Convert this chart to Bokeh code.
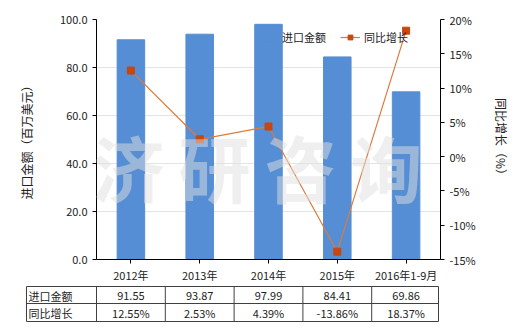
from bokeh.plotting import figure
from bokeh.models import (Range1d, LinearAxis, FactorRange, PrintfTickFormatter,
                          FixedTicker, Legend, LegendItem, Label, ColumnDataSource)
from bokeh.embed import file_html
from bokeh.resources import INLINE
from bokeh.core.properties import value

categories = ["2012年", "2013年", "2014年", "2015年", "2016年1-9月"]
import_values = [91.55, 93.87, 97.99, 84.41, 69.86]
growth_pct = [12.55, 2.53, 4.39, -13.86, 18.37]
import_labels = ["91.55", "93.87", "97.99", "84.41", "69.86"]
growth_labels = ["12.55%", "2.53%", "4.39%", "-13.86%", "18.37%"]
row_names = ["进口金额", "同比增长"]
watermark_chars = ["济", "研", "咨", "询"]

FONT = "Noto Sans CJK SC"
BAR = "#558ED5"
LINE = "#E0793A"
MARK = "#C8470C"

p = figure(width=520, height=285, x_range=FactorRange(*categories),
           y_range=Range1d(0, 100), output_backend="svg", toolbar_location=None,
           min_border_left=96, min_border_right=80, min_border_top=19,
           min_border_bottom=26)
p.extra_y_ranges = {"pct": Range1d(-15, 20)}
p.outline_line_color = None
p.background_fill_color = "white"
p.border_fill_color = "white"

bars = p.vbar(x=categories, top=import_values, width=0.4, color=BAR)

# watermark
for i, ch in enumerate(watermark_chars):
    p.add_layout(Label(x=32 + i * 86, y=94, x_units="screen", y_units="screen",
                       text=ch, text_font=FONT, text_font_size="72px",
                       text_font_style="bold", text_color="#e0e0e0", text_alpha=0.5,
                       text_align="center", text_baseline="middle"))

ln = p.line(x=categories, y=growth_pct, y_range_name="pct", color=LINE, line_width=1.2)
mk = p.scatter(x=categories, y=growth_pct, y_range_name="pct", marker="square",
               size=7, fill_color=MARK, line_color=MARK)

# left axis
p.yaxis.ticker = FixedTicker(ticks=[0, 20, 40, 60, 80, 100])
p.yaxis.formatter = PrintfTickFormatter(format="%.1f")
p.yaxis.axis_label = "进口金额（百万美元）"
p.yaxis.axis_label_standoff = 22
for ax in [p.yaxis[0], p.xaxis[0]]:
    ax.axis_line_color = "black"
    ax.major_tick_line_color = "black"
    ax.major_tick_out = 4
    ax.major_tick_in = 0
    ax.minor_tick_line_color = None
    ax.major_label_text_font = FONT
    ax.major_label_text_font_size = "11px"
    ax.major_label_text_color = "#222222"
    ax.axis_label_text_font = FONT
    ax.axis_label_text_font_size = "12px"
    ax.axis_label_text_font_style = "normal"
    ax.axis_label_text_color = "#222222"
p.xaxis.major_label_standoff = 3

# right axis
ra = LinearAxis(y_range_name="pct", ticker=FixedTicker(ticks=[-15, -10, -5, 0, 5, 10, 15, 20]),
                formatter=PrintfTickFormatter(format="%d%%"),
                axis_label="同比增长（%）", axis_label_standoff=14)
ra.axis_line_color = "black"
ra.major_tick_line_color = "black"
ra.major_tick_out = 4
ra.major_tick_in = 0
ra.minor_tick_line_color = None
ra.major_label_text_font = FONT
ra.major_label_text_font_size = "11px"
ra.major_label_text_color = "#222222"
ra.axis_label_text_font = FONT
ra.axis_label_text_font_size = "12px"
ra.axis_label_text_font_style = "normal"
ra.axis_label_text_color = "#222222"
p.add_layout(ra, "right")

p.xgrid.grid_line_color = None
p.ygrid.grid_line_color = "#e4e4e4"

legend = Legend(items=[LegendItem(label="进口金额", renderers=[bars]),
                       LegendItem(label="同比增长", renderers=[ln, mk])],
                orientation="horizontal", location=(162, 214),
                label_text_font=FONT, label_text_font_size="11px",
                label_text_color="#222222", glyph_width=20, glyph_height=12,
                label_standoff=4, spacing=14, padding=0, margin=0,
                border_line_color=None, background_fill_alpha=0)
p.add_layout(legend, "center")

# table figure (separate root, full-width frame)
unit = 344 / 5.0
t = figure(frame_width=520, frame_height=45, output_backend="svg", toolbar_location=None,
           x_axis_location=None, y_axis_location=None,
           x_range=Range1d(-0.5 - 96 / unit, 4.5 + 80 / unit), y_range=Range1d(45, 0),
           min_border=0, min_border_left=0, min_border_right=0,
           min_border_top=0, min_border_bottom=0)
t.grid.visible = False
t.outline_line_color = None
left_edge = -0.5 - 70 / unit
right_edge = 4.5 - 2 / unit
row_y = [1, 18, 36]
t.multi_line(xs=[[left_edge, right_edge]] * 3, ys=[[y, y] for y in row_y],
             color="#404040", line_width=1)
vx = [left_edge] + [k - 0.5 for k in range(1, 5)] + [-0.5, right_edge]
t.multi_line(xs=[[x, x] for x in vx], ys=[[1, 36]] * len(vx), color="#404040", line_width=1)

src = ColumnDataSource(dict(x=list(range(5)) * 2,
                            y=[10] * 5 + [27] * 5,
                            txt=import_labels + growth_labels))
t.text(x="x", y="y", text="txt", source=src, text_font=value(FONT),
       text_font_size="11px", text_align="center", text_baseline="middle",
       text_color="#222222")
t.text(x=[left_edge + 2 / unit] * 2, y=[10, 27], text=row_names, text_font=value(FONT),
       text_font_size="11px", text_align="left", text_baseline="middle",
       text_color="#222222")

open("out.html", "w").write(file_html([p, t], INLINE))
